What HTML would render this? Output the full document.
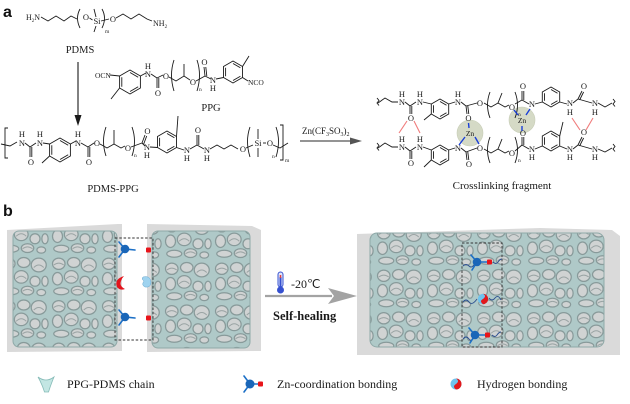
<!DOCTYPE html>
<html><head><meta charset="utf-8"><style>
html,body{margin:0;padding:0;background:#fff;width:630px;height:404px;overflow:hidden;}
svg{display:block;}
.t{font-family:"Liberation Serif",serif;fill:#1a1a1a;}
.a{font-size:8.5px;text-anchor:middle;}
.s{font-size:5.5px;}
.b{stroke:#1a1a1a;stroke-width:0.9;fill:none;}
.r{stroke:#f07c7c;stroke-width:1.1;fill:none;}
.z{stroke:#1a3fd8;stroke-width:1.4;fill:none;}
</style></head><body>
<svg width="630" height="404" viewBox="0 0 630 404" xmlns="http://www.w3.org/2000/svg">
<defs>
<g id="tile">
<rect width="40" height="34" fill="#afc9c8"/>
<g fill="#d0d3d3" stroke="#889a9a" stroke-width="1">
<ellipse cx="7" cy="7" rx="5" ry="4.5"/>
<ellipse cx="19" cy="6" rx="5" ry="4"/>
<ellipse cx="31" cy="8" rx="6" ry="5.5"/>
<ellipse cx="6" cy="19" rx="4" ry="5"/>
<ellipse cx="17" cy="17.5" rx="5.5" ry="5"/>
<ellipse cx="28" cy="21" rx="4" ry="4"/>
<ellipse cx="36" cy="21" rx="2.5" ry="4"/>
<ellipse cx="9" cy="29" rx="6" ry="2.8"/>
<ellipse cx="22" cy="28.5" rx="5" ry="3.5"/>
<ellipse cx="33" cy="30" rx="3.5" ry="2.5"/>
</g>
<g fill="none" stroke="#9aa4a4" stroke-width="0.8">
<path d="M3,8 Q7,5 11,8"/><path d="M27,10 Q31,6 35,10"/><path d="M13,19 Q17,15 21,19"/><path d="M18,29 Q22,26 26,29"/>
</g>
</g>
<pattern id="foam" width="40" height="34" patternUnits="userSpaceOnUse" patternTransform="scale(1.25)"><use href="#tile"/></pattern>
<pattern id="foam2" width="40" height="34" patternUnits="userSpaceOnUse" patternTransform="translate(13,5) scale(1.25)"><use href="#tile"/></pattern>
<pattern id="foam3" width="40" height="34" patternUnits="userSpaceOnUse" patternTransform="translate(25,12) scale(1.25)"><use href="#tile"/></pattern>
</defs>

<!-- ===== Part a ===== -->
<text x="3" y="17" font-family="Liberation Sans,sans-serif" font-weight="bold" font-size="16" fill="#111">a</text>

<!-- PDMS -->
<text class="t" x="26" y="20" font-size="8">H<tspan font-size="5" dy="2">2</tspan><tspan dy="-2">N</tspan></text>
<polyline class="b" points="41,17 48,21 56,16 64,21 71,16 77,19"/>
<path class="b" d="M80,9 Q75,18 80,28"/>
<text class="t a" x="86" y="20">O</text>
<line class="b" x1="89.5" y1="18" x2="92.5" y2="20"/>
<text class="t a" x="97" y="24">Si</text>
<line class="b" x1="96" y1="17" x2="94" y2="9"/>
<line class="b" x1="96" y1="26" x2="94" y2="32"/>
<path class="b" d="M102,9 Q107,18 102,28"/>
<text class="t s" x="105" y="33">m</text>
<line class="b" x1="101" y1="21" x2="109" y2="19"/>
<text class="t a" x="113" y="22">O</text>
<polyline class="b" points="116,18 123,14 131,19 139,14 147,19 152,21"/>
<text class="t" x="153" y="26" font-size="8">NH<tspan font-size="5" dy="2">2</tspan></text>
<text class="t" x="80" y="53" font-size="10.5" text-anchor="middle">PDMS</text>

<!-- vertical arrow -->
<line x1="78" y1="62" x2="78" y2="117" stroke="#1a1a1a" stroke-width="1.1"/>
<polygon points="74.5,115 81.5,115 78,126" fill="#1a1a1a"/>

<!-- PPG -->
<text class="t" x="95" y="78" font-size="7.5">OCN</text>
<line class="b" x1="110" y1="75" x2="119.6" y2="76"/>
<polygon class="b" points="130,70 140.4,76 140.4,88 130,94 119.6,88 119.6,76"/>
<path class="b" d="M130,72.5 L138.2,77.25 M138.2,86.75 L130,91.5 M121.8,86.75 L121.8,77.25"/>
<line class="b" x1="119.6" y1="88" x2="111" y2="99"/>
<line class="b" x1="140.4" y1="76" x2="146" y2="73"/>
<text class="t a" x="148" y="77">N</text><text class="t a" x="148" y="69" font-size="7">H</text>
<line class="b" x1="151" y1="74" x2="157" y2="78"/>
<path class="b" d="M157,78 L157,88 M158.8,78 L158.8,88"/>
<text class="t a" x="158" y="96">O</text>
<line class="b" x1="157" y1="78" x2="163" y2="75"/>
<text class="t a" x="166" y="79">O</text>
<path class="b" d="M174,60 Q169,75 174,91"/>
<polyline class="b" points="169,77 176,81 184,76 190,80"/>
<line class="b" x1="184" y1="76" x2="184" y2="64"/>
<text class="t a" x="193" y="85">O</text>
<path class="b" d="M197,60 Q202,75 197,91"/>
<text class="t s" x="199" y="91">n</text>
<line class="b" x1="196" y1="81" x2="205" y2="76"/>
<path class="b" d="M205,76 L204,67 M206.8,76 L205.8,67"/>
<text class="t a" x="204.5" y="65">O</text>
<line class="b" x1="205" y1="76" x2="211" y2="79"/>
<text class="t a" x="213" y="83">N</text><text class="t a" x="213" y="91" font-size="7">H</text>
<line class="b" x1="216" y1="79" x2="223.5" y2="77.5"/>
<polygon class="b" points="233,61 242.5,66.5 242.5,77.5 233,83 223.5,77.5 223.5,66.5"/>
<path class="b" d="M233,63.5 L240.4,67.75 M240.4,76.25 L233,80.5 M225.6,76.25 L225.6,67.75"/>
<line class="b" x1="242.5" y1="66.5" x2="249" y2="56"/>
<line class="b" x1="242.5" y1="77.5" x2="248" y2="81"/>
<text class="t" x="248" y="85" font-size="7.5">NCO</text>
<text class="t" x="211" y="111" font-size="10.5" text-anchor="middle">PPG</text>

<!-- PDMS-PPG chain -->
<path class="b" d="M8,128 L5,128 L5,158 L8,158"/>
<polyline class="b" points="1,144 10,146 17,142"/>
<text class="t a" x="22" y="146">N</text><text class="t a" x="22" y="137" font-size="7">H</text>
<line class="b" x1="25" y1="143" x2="30" y2="147"/>
<path class="b" d="M30,147 L30,157 M31.8,147 L31.8,157"/>
<text class="t a" x="31" y="165">O</text>
<line class="b" x1="30" y1="147" x2="36" y2="143"/>
<text class="t a" x="40" y="146">N</text><text class="t a" x="40" y="137" font-size="7">H</text>
<line class="b" x1="43" y1="143" x2="49.6" y2="144"/>
<polygon class="b" points="60,138 70.4,144 70.4,156 60,162 49.6,156 49.6,144"/>
<path class="b" d="M60,140.5 L68.2,145.25 M68.2,154.75 L60,159.5 M51.8,154.75 L51.8,145.25"/>
<line class="b" x1="49.6" y1="156" x2="42" y2="163"/>
<line class="b" x1="70.4" y1="144" x2="76" y2="141"/>
<text class="t a" x="78" y="146">N</text><text class="t a" x="78" y="137" font-size="7">H</text>
<line class="b" x1="81" y1="143" x2="88" y2="147"/>
<path class="b" d="M88,147 L88,157 M89.8,147 L89.8,157"/>
<text class="t a" x="89" y="165">O</text>
<line class="b" x1="88" y1="147" x2="94" y2="143"/>
<text class="t a" x="97" y="146">O</text>
<path class="b" d="M106,127 Q101,141 106,156"/>
<polyline class="b" points="100,144 107,148 114,144 121,148 125,146"/>
<line class="b" x1="114" y1="144" x2="114" y2="130"/>
<text class="t a" x="128" y="151">O</text>
<path class="b" d="M132,127 Q137,141 132,156"/>
<text class="t s" x="134" y="157">n</text>
<line class="b" x1="131" y1="147" x2="142" y2="143"/>
<path class="b" d="M142,143 L145,135 M143.7,144 L146.7,136"/>
<text class="t a" x="147.5" y="134">O</text>
<line class="b" x1="142" y1="143" x2="145" y2="146"/>
<text class="t a" x="147" y="150">N</text><text class="t a" x="147" y="158" font-size="7">H</text>
<line class="b" x1="150" y1="147" x2="157.5" y2="147.5"/>
<polygon class="b" points="167,131 176.5,136.5 176.5,147.5 167,153 157.5,147.5 157.5,136.5"/>
<path class="b" d="M167,133.5 L174.4,137.75 M174.4,146.25 L167,150.5 M159.6,146.25 L159.6,137.75"/>
<line class="b" x1="176.5" y1="136.5" x2="178" y2="116"/>
<line class="b" x1="176.5" y1="147.5" x2="184" y2="150"/>
<text class="t a" x="187" y="153">N</text><text class="t a" x="187" y="161" font-size="7">H</text>
<line class="b" x1="190" y1="149" x2="197" y2="145"/>
<path class="b" d="M197,145 L197,135 M198.8,145 L198.8,135"/>
<text class="t a" x="198" y="133">O</text>
<line class="b" x1="197" y1="145" x2="204" y2="149"/>
<text class="t a" x="207" y="153">N</text><text class="t a" x="207" y="161" font-size="7">H</text>
<polyline class="b" points="210,149 217,145 224,149 231,145 238,149"/>
<text class="t a" x="243" y="152">O</text>
<path class="b" d="M250,127 Q245,141 250,157"/>
<line class="b" x1="246" y1="148" x2="253" y2="145"/>
<text class="t a" x="258" y="146">Si</text>
<line class="b" x1="258" y1="139" x2="258" y2="129"/>
<line class="b" x1="258" y1="148" x2="258" y2="157"/>
<line class="b" x1="263" y1="143" x2="266" y2="143"/>
<text class="t a" x="270" y="146">O</text>
<path class="b" d="M276,127 Q281,141 276,157"/>
<text class="t s" x="272" y="158">n</text>
<polyline class="b" points="273,145 280,148 288,143"/>
<path class="b" d="M280,125 L283,125 L283,160 L280,160"/>
<text class="t s" x="285" y="162">m</text>
<text class="t" x="113" y="192" font-size="10.5" text-anchor="middle">PDMS-PPG</text>

<!-- reaction arrow -->
<text class="t" x="302" y="134" font-size="9">Zn(CF<tspan font-size="6" dy="2">3</tspan><tspan dy="-2">SO</tspan><tspan font-size="6" dy="2">3</tspan><tspan dy="-2">)</tspan><tspan font-size="6" dy="2">2</tspan></text>
<line x1="300" y1="141" x2="356" y2="141" stroke="#555" stroke-width="1.2"/>
<polygon points="350,137.5 362,141 350,144.5" fill="#555"/>

<!-- Crosslinking fragment -->
<circle cx="470" cy="133" r="13" fill="#d5dac6" stroke="#c7cdb6" stroke-width="0.6"/>
<circle cx="522" cy="120" r="13" fill="#d5dac6" stroke="#c7cdb6" stroke-width="0.6"/>
<!-- top chain -->
<path class="b" d="M377,98 l2,2.5 l-2,2.5 l2,2.5"/>
<polyline class="b" points="378,103 385,98 392,102 398,102"/>
<text class="t a" x="402" y="105">N</text><text class="t a" x="402" y="97" font-size="7">H</text>
<line class="b" x1="405" y1="102" x2="410" y2="106"/>
<path class="b" d="M410,106 L410,114 M411.8,106 L411.8,114"/>
<text class="t a" x="411" y="121">O</text>
<line class="b" x1="410" y1="106" x2="416" y2="102"/>
<text class="t a" x="420" y="105">N</text><text class="t a" x="420" y="97" font-size="7">H</text>
<line class="b" x1="423" y1="102" x2="431.3" y2="104"/>
<polygon class="b" points="440,99 448.7,104 448.7,114 440,119 431.3,114 431.3,104"/>
<path class="b" d="M440,101.5 L446.5,105.25 M446.5,112.75 L440,116.5 M433.5,112.75 L433.5,105.25"/>
<line class="b" x1="431.3" y1="114" x2="424" y2="120"/>
<line class="b" x1="448.7" y1="104" x2="455" y2="102"/>
<text class="t a" x="458" y="105">N</text><text class="t a" x="458" y="97" font-size="7">H</text>
<line class="b" x1="461" y1="102" x2="466" y2="106"/>
<path class="b" d="M466,106 L467,114 M467.8,106 L468.8,114"/>
<text class="t a" x="468.5" y="121">O</text>
<line class="b" x1="466" y1="106" x2="477" y2="103"/>
<text class="t a" x="480" y="106">O</text>
<path class="b" d="M490,92 Q485,105 490,118"/>
<polyline class="b" points="484,103 491,107 498,103 505,107 509,105"/>
<line class="b" x1="498" y1="103" x2="502" y2="93"/>
<text class="t a" x="512" y="110">O</text>
<path class="b" d="M515,92 Q520,105 515,118"/>
<text class="t s" x="518" y="116">n</text>
<line class="b" x1="515" y1="104" x2="522" y2="100"/>
<path class="b" d="M522,100 L522,91 M523.8,100 L523.8,91"/>
<text class="t a" x="523" y="89">O</text>
<line class="b" x1="522" y1="100" x2="529" y2="104"/>
<text class="t a" x="532" y="107">N</text>
<line class="b" x1="535" y1="104" x2="542.3" y2="102"/>
<polygon class="b" points="551,87 559.7,92 559.7,102 551,107 542.3,102 542.3,92"/>
<path class="b" d="M551,89.5 L557.5,93.25 M557.5,100.75 L551,104.5 M544.5,100.75 L544.5,93.25"/>
<line class="b" x1="559.7" y1="102" x2="567" y2="104"/>
<text class="t a" x="570" y="106">N</text><text class="t a" x="570" y="115" font-size="7">H</text>
<line class="b" x1="573" y1="103" x2="578" y2="99"/>
<path class="b" d="M578,99 L582,91 M579.6,100 L583.6,92"/>
<text class="t a" x="584" y="89">O</text>
<line class="b" x1="578" y1="99" x2="592" y2="103"/>
<text class="t a" x="595" y="106">N</text><text class="t a" x="595" y="115" font-size="7">H</text>
<polyline class="b" points="598,103 605,107 612,103"/>
<path class="b" d="M613,99 l2,2.5 l-2,2.5 l2,2.5"/>
<!-- bottom chain -->
<path class="b" d="M377,143 l2,2.5 l-2,2.5 l2,2.5"/>
<polyline class="b" points="378,148 385,143 392,147 398,147"/>
<text class="t a" x="402" y="150">N</text><text class="t a" x="402" y="142" font-size="7">H</text>
<line class="b" x1="405" y1="147" x2="410" y2="151"/>
<path class="b" d="M410,151 L410,159 M411.8,151 L411.8,159"/>
<text class="t a" x="411" y="166">O</text>
<line class="b" x1="410" y1="151" x2="416" y2="147"/>
<text class="t a" x="420" y="150">N</text><text class="t a" x="420" y="142" font-size="7">H</text>
<line class="b" x1="423" y1="147" x2="431.3" y2="150"/>
<polygon class="b" points="440,145 448.7,150 448.7,160 440,165 431.3,160 431.3,150"/>
<path class="b" d="M440,147.5 L446.5,151.25 M446.5,158.75 L440,162.5 M433.5,158.75 L433.5,151.25"/>
<line class="b" x1="431.3" y1="160" x2="424" y2="167"/>
<line class="b" x1="448.7" y1="150" x2="455" y2="148"/>
<text class="t a" x="458" y="151">N</text>
<line class="b" x1="461" y1="148" x2="466" y2="152"/>
<path class="b" d="M466,152 L467,160 M467.8,152 L468.8,160"/>
<text class="t a" x="469" y="167">O</text>
<line class="b" x1="466" y1="152" x2="477" y2="148"/>
<text class="t a" x="480" y="151">O</text>
<path class="b" d="M490,137 Q485,150 490,163"/>
<polyline class="b" points="484,149 491,153 498,149 505,153 509,151"/>
<line class="b" x1="498" y1="149" x2="502" y2="139"/>
<text class="t a" x="512" y="156">O</text>
<path class="b" d="M515,137 Q520,150 515,163"/>
<text class="t s" x="518" y="162">n</text>
<line class="b" x1="515" y1="151" x2="522" y2="145"/>
<path class="b" d="M522,145 L522,137 M523.8,145 L523.8,137"/>
<text class="t a" x="523" y="136">O</text>
<line class="b" x1="522" y1="145" x2="529" y2="149"/>
<text class="t a" x="532" y="152">N</text><text class="t a" x="532" y="160" font-size="7">H</text>
<line class="b" x1="535" y1="149" x2="542.3" y2="146"/>
<polygon class="b" points="551,131 559.7,136 559.7,146 551,151 542.3,146 542.3,136"/>
<path class="b" d="M551,133.5 L557.5,137.25 M557.5,144.75 L551,148.5 M544.5,144.75 L544.5,137.25"/>
<line class="b" x1="559.7" y1="136" x2="563" y2="122"/>
<line class="b" x1="559.7" y1="146" x2="567" y2="149"/>
<text class="t a" x="570" y="152">N</text><text class="t a" x="570" y="160" font-size="7">H</text>
<line class="b" x1="573" y1="149" x2="578" y2="145"/>
<path class="b" d="M578,145 L582,137 M579.6,146 L583.6,138"/>
<text class="t a" x="584" y="135">O</text>
<line class="b" x1="578" y1="145" x2="592" y2="149"/>
<text class="t a" x="595" y="152">N</text><text class="t a" x="595" y="160" font-size="7">H</text>
<polyline class="b" points="598,149 605,152 612,148"/>
<path class="b" d="M613,144 l2,2.5 l-2,2.5 l2,2.5"/>
<!-- Zn -->
<text class="t" x="470" y="136" font-size="7.5" text-anchor="middle" fill="#333">Zn</text>
<text class="t" x="522" y="123" font-size="7.5" text-anchor="middle" fill="#333">Zn</text>
<path class="z" d="M469,128 L468.5,123 M465,137 L459,145 M475,137 L479,144"/>
<path class="z" d="M518,115 L514,110 M526,115 L530,109 M522,126 L522,131"/>
<!-- H-bonds -->
<path class="r" d="M399,133 L407,121 M414,121 L420,133 M572,118 L580,130 M586,130 L593,118"/>
<text class="t" x="502" y="189" font-size="11" text-anchor="middle">Crosslinking fragment</text>

<!-- ===== Part b ===== -->
<text x="3" y="216" font-family="Liberation Sans,sans-serif" font-weight="bold" font-size="16" fill="#111">b</text>

<!-- left pair -->
<polygon points="7,230 118,224 122,224 122,351 7,352" fill="#dadada"/>
<rect x="13" y="231" width="104" height="116" rx="6" fill="url(#foam)" stroke="#8fa9a8" stroke-width="1"/>
<polygon points="147,224 252,226 261,230 261,351 147,352" fill="#dadada"/>
<rect x="152" y="231" width="98" height="117" rx="6" fill="url(#foam2)" stroke="#8fa9a8" stroke-width="1"/>
<rect x="115" y="238" width="38" height="102" fill="none" stroke="#333" stroke-width="0.9" stroke-dasharray="2.5,1.8"/>
<!-- molecules left -->
<g stroke="#1b6fc6" stroke-width="1.6" stroke-linecap="round">
<line x1="125" y1="249" x2="119" y2="242"/><line x1="125" y1="249" x2="119" y2="257"/><line x1="125" y1="249" x2="135" y2="250"/>
<line x1="125" y1="317" x2="119" y2="310"/><line x1="125" y1="317" x2="119" y2="325"/><line x1="125" y1="317" x2="135" y2="318"/>
</g>
<circle cx="125" cy="249" r="4.3" fill="#1a66b8"/>
<circle cx="125" cy="317" r="4.3" fill="#1a66b8"/>
<rect x="146" y="247.5" width="5" height="5" rx="1" fill="#e8141a"/>
<rect x="146" y="315.5" width="5" height="5" rx="1" fill="#e8141a"/>
<path d="M124,276 Q114,279 117,287 Q120,291 125,289 Q119,286 121,281 Q122,278 124,276 Z" fill="#e2141c"/>
<path d="M143,277 Q150,275 151,282 Q151,288 145,287 Q141,285 144,281 Q141,279 143,277 Z" fill="#9fd3ef" stroke="#6aa9cf" stroke-width="0.5"/>

<!-- arrow b -->
<rect x="278" y="272" width="5" height="15" rx="2.5" fill="#dfe6fb" stroke="#3550d0" stroke-width="1"/>
<line x1="280.5" y1="277" x2="280.5" y2="289" stroke="#3550d0" stroke-width="2"/>
<circle cx="280.5" cy="290" r="3.5" fill="#3550d0"/>
<line x1="280.5" y1="275" x2="280.5" y2="278" stroke="#e04040" stroke-width="1.5"/>
<text class="t" x="291" y="288" font-size="12" fill="#111">-20℃</text>
<line x1="265" y1="296" x2="332" y2="296" stroke="#a3a3a3" stroke-width="2.2"/>
<polygon points="328,288 357,296 328,304 334,296" fill="#a3a3a3"/>
<text class="t" x="273" y="320" font-size="12.5" font-weight="bold" fill="#222">Self-healing</text>

<!-- right block -->
<polygon points="357,234 540,228 612,230 620,236 620,355 357,355" fill="#dadada"/>
<rect x="370" y="233" width="234" height="114" rx="7" fill="url(#foam3)" stroke="#8fa9a8" stroke-width="1"/>
<rect x="462" y="243" width="40" height="104" fill="none" stroke="#333" stroke-width="0.9" stroke-dasharray="2.5,1.8"/>
<g fill="none" stroke="#2a4d8f" stroke-width="0.9">
<path d="M463,266 q3,-3 6,0 t6,-3"/>
<path d="M493,262 q3,3 5,0 t4,-3"/>
<path d="M463,302 q3,-4 6,0 t8,-3"/>
<path d="M489,298 q3,4 6,0 t6,2"/>
<path d="M463,339 q3,-4 6,0 t6,-4"/>
<path d="M492,335 q3,3 5,0 t4,-3"/>
</g>
<g stroke="#1b6fc6" stroke-width="1.6" stroke-linecap="round">
<line x1="477" y1="262" x2="471" y2="255"/><line x1="477" y1="262" x2="472" y2="270"/><line x1="477" y1="262" x2="488" y2="262"/>
<line x1="475" y1="335" x2="469" y2="328"/><line x1="475" y1="335" x2="470" y2="343"/><line x1="475" y1="335" x2="486" y2="335"/>
</g>
<circle cx="477" cy="262" r="4.3" fill="#1a66b8"/>
<circle cx="475" cy="335" r="4.3" fill="#1a66b8"/>
<rect x="487" y="259.5" width="5" height="5" rx="1" fill="#e8141a"/>
<rect x="485" y="332.5" width="5" height="5" rx="1" fill="#e8141a"/>
<circle cx="483" cy="299" r="5.2" fill="#6fc3ee"/>
<path d="M483,293.8 A5.2,5.2 0 0 1 483,304.2 Q479,301 483,299 Q487,296 483,293.8 Z" fill="#e2181c"/>

<!-- legend -->
<path d="M38,377 Q46,383 54,377 Q51,384 48.5,392 L44.5,392 Q42,384 38,377 Z" fill="#c3e6e3" stroke="#86bcb8" stroke-width="0.8"/>
<text class="t" x="67" y="388" font-size="12" fill="#222">PPG-PDMS chain</text>
<g stroke="#1b6fc6" stroke-width="1.6" stroke-linecap="round">
<line x1="250" y1="384" x2="244" y2="376"/><line x1="250" y1="384" x2="244" y2="392"/><line x1="250" y1="384" x2="259" y2="384"/>
</g>
<circle cx="250" cy="384" r="4.5" fill="#1a66b8"/>
<rect x="258" y="381.5" width="5" height="5" rx="1" fill="#e8141a"/>
<text class="t" x="277" y="388" font-size="12" fill="#222">Zn-coordination bonding</text>
<circle cx="456" cy="384" r="5.5" fill="#6fc3ee"/>
<path d="M456,378.5 A5.5,5.5 0 0 1 456,389.5 Q452,386.5 456,384 Q460,381 456,378.5 Z" fill="#e2181c"/>
<text class="t" x="477" y="388" font-size="12" fill="#222">Hydrogen bonding</text>
</svg>
</body></html>
